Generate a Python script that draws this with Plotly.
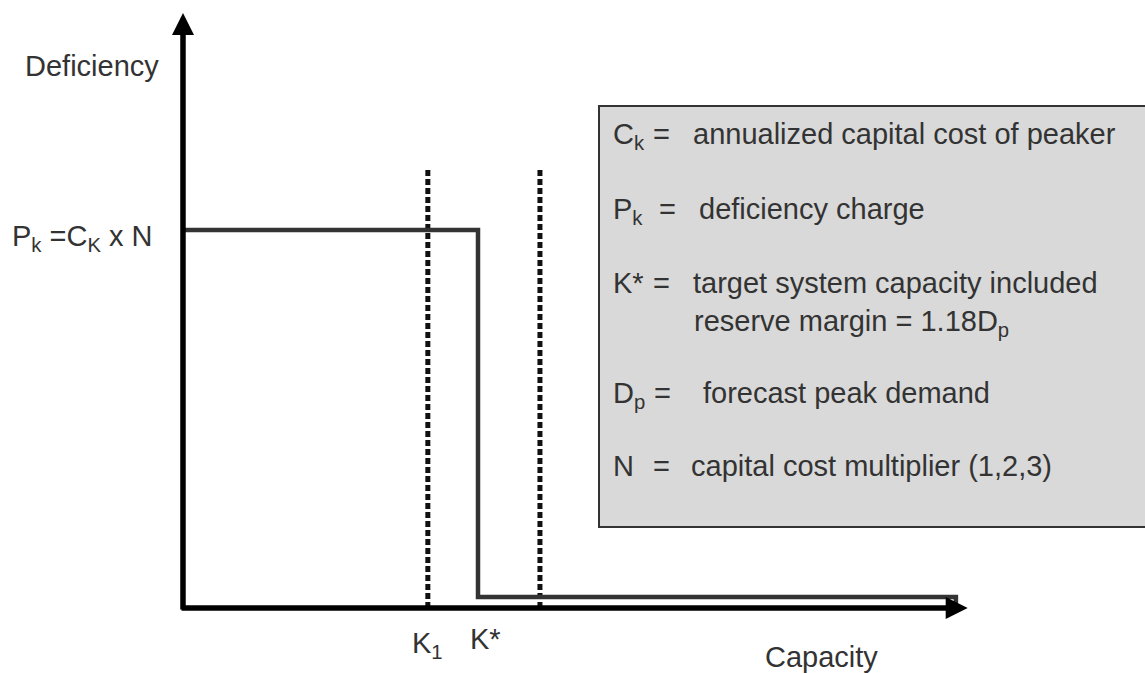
import plotly.graph_objects as go

W, H = 1145, 673

# ---- data (schematic units: K* = 1 on capacity, Pk = 1 on deficiency) ----
capacity_step = [0.0, 1.0, 1.0, 2.62, 2.62]
deficiency_step = [1.0, 1.0, 0.029, 0.029, 0.0]
k_marks = [0.83, 1.21]          # K1 and upper reserve bound (dotted)
k_mark_top = 1.167
axis_x_end = 2.66
axis_y_end = 1.574
axis_origin = (-0.01, -0.008)

x_range = [-0.6203, 3.2610]
y_range = [-0.1720, 1.6085]

FONT = "Liberation Sans, Arial, sans-serif"
TXT = "#333333"
FS = 29

fig = go.Figure()

# dotted reference lines
for k in k_marks:
    fig.add_trace(go.Scatter(
        x=[k, k], y=[0, k_mark_top], mode="lines",
        line=dict(color="#111111", width=5, dash="6px,3px"),
        hoverinfo="skip"))

# step curve
fig.add_trace(go.Scatter(
    x=capacity_step, y=deficiency_step, mode="lines",
    line=dict(color="#333333", width=4.5, shape="linear"),
    hoverinfo="skip"))

annotations = []
# axes with arrowheads
annotations.append(dict(x=axis_x_end, y=0, ax=axis_origin[0], ay=0,
                        xref="x", yref="y", axref="x", ayref="y",
                        text="", showarrow=True, arrowhead=2, arrowsize=0.8,
                        arrowwidth=5.5, arrowcolor="black", standoff=0))
annotations.append(dict(x=0, y=axis_y_end, ax=0, ay=axis_origin[1],
                        xref="x", yref="y", axref="x", ayref="y",
                        text="", showarrow=True, arrowhead=2, arrowsize=0.8,
                        arrowwidth=5.5, arrowcolor="black", standoff=0))


def px_x(px):
    return px / W


def px_y(py):
    return 1 - py / H


def label(px, cap_top, text, size=FS):
    annotations.append(dict(
        x=px_x(px), y=px_y(cap_top - 0.19 * size),
        xref="paper", yref="paper", xanchor="left", yanchor="top",
        text=text, showarrow=False, borderpad=0,
        font=dict(family=FONT, size=size, color=TXT)))


label(24, 55, "Deficiency")
label(11, 225, "P<sub>k</sub> =C<sub>K</sub> x N")
label(411, 632, "K<sub>1</sub>")
label(469, 628, "K*")
label(764, 646, "Capacity")

# legend box entries
box_rows = [
    ("C<sub>k</sub>", 652, 692, 123, "annualized capital cost of peaker"),
    ("P<sub>k</sub>", 658, 698, 198, "deficiency charge"),
    ("K*", 652, 692, 272, "target system capacity included"),
    ("", None, 693, 310, "reserve margin = 1.18D<sub>p</sub>"),
    ("D<sub>p</sub>", 653, 702, 382, "forecast peak demand"),
    ("N", 652, 690, 455, "capital cost multiplier (1,2,3)"),
]
for lab, eq_x, desc_x, top, desc in box_rows:
    if lab:
        label(612, top, lab)
        label(eq_x, top, "=")
    label(desc_x, top, desc)

fig.update_layout(
    width=W, height=H,
    margin=dict(l=0, r=0, t=0, b=0),
    paper_bgcolor="white", plot_bgcolor="white",
    showlegend=False,
    xaxis=dict(range=x_range, visible=False, fixedrange=True),
    yaxis=dict(range=y_range, visible=False, fixedrange=True),
    annotations=annotations,
    shapes=[dict(type="rect", xref="paper", yref="paper",
                 x0=px_x(599), x1=px_x(1160), y0=px_y(527), y1=px_y(106),
                 fillcolor="#d9d9d9", line=dict(color="#333333", width=2),
                 layer="below")],
)

fig.write_html(
    "out.html",
    config={"displayModeBar": False, "staticPlot": True},
    post_script="document.body.style.margin='0';"
                "document.body.style.overflow='hidden';",
)
